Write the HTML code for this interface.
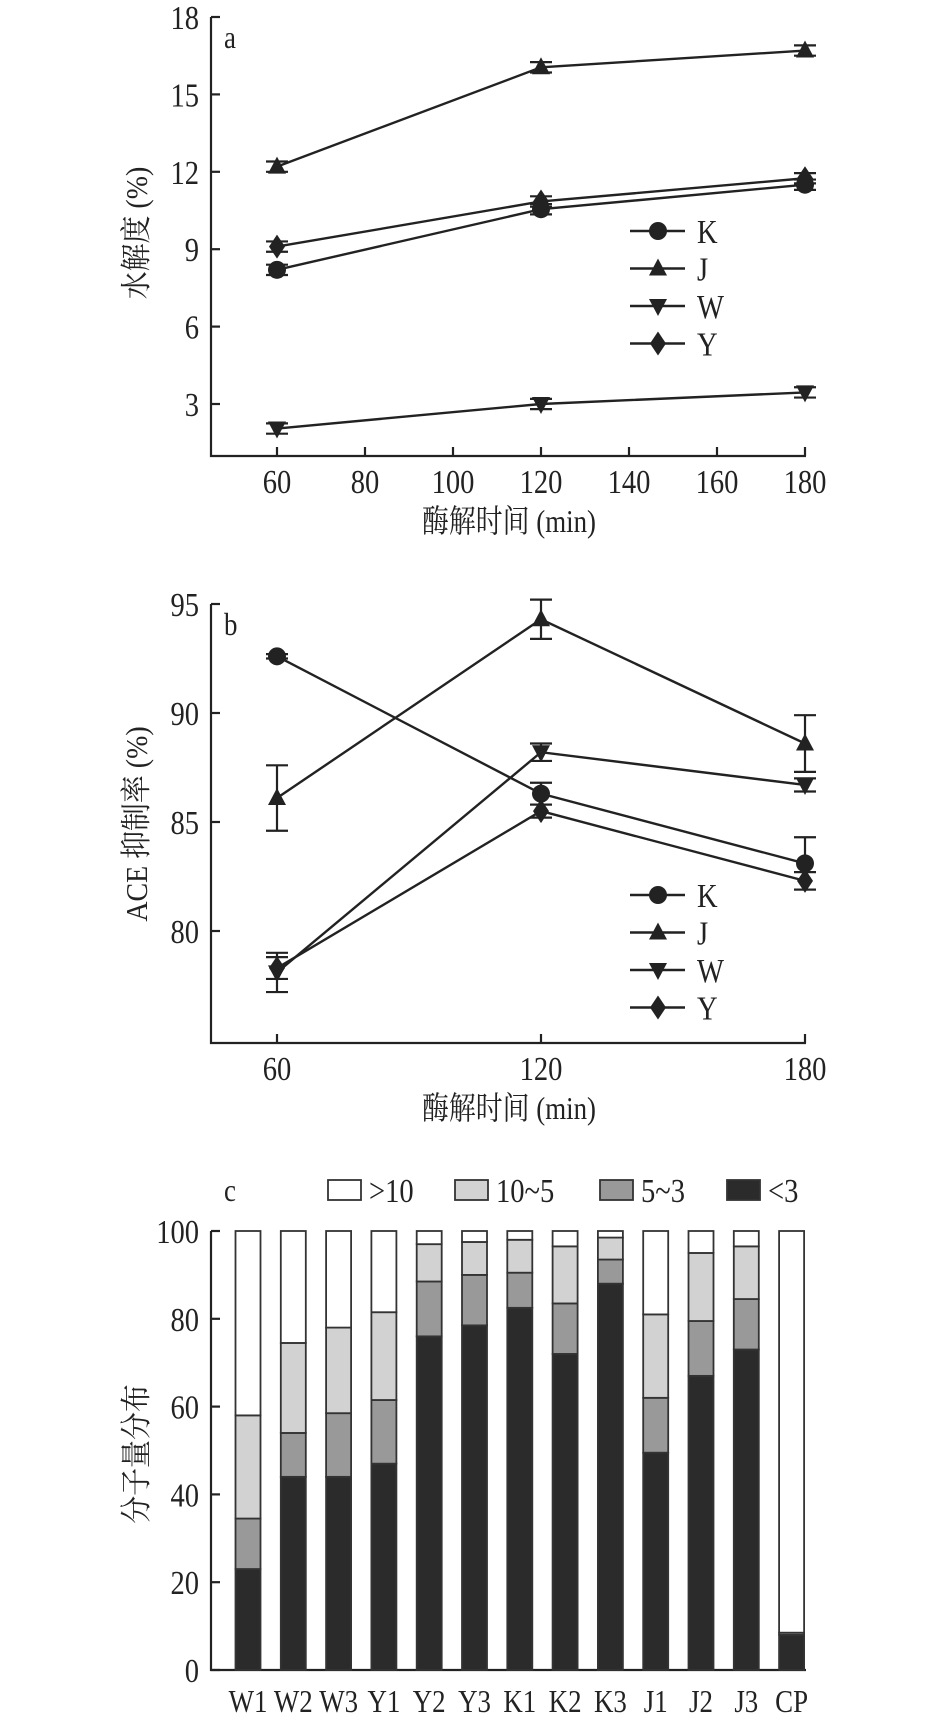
<!DOCTYPE html>
<html><head><meta charset="utf-8"><style>
html,body{margin:0;padding:0;background:#fff;}
svg{display:block;}
text{font-family:"Liberation Serif","Noto Serif CJK SC","Noto Sans CJK SC",serif;fill:#222;}
</style></head><body>
<svg id="fig" width="945" height="1721" viewBox="0 0 945 1721" xmlns="http://www.w3.org/2000/svg"></svg>
<script>
// ---- Chart a data ----
const aTimes = [60, 120, 180];
const aK = [8.2, 10.55, 11.5];
const aJ = [12.2, 16.05, 16.7];
const aW = [2.05, 3.0, 3.45];
const aY = [9.1, 10.85, 11.75];
const aErr = [0.2, 0.2, 0.2];
const aXTicks = [60, 80, 100, 120, 140, 160, 180];
const aYTicks = [3, 6, 9, 12, 15, 18];
// ---- Chart b data ----
const bTimes = [60, 120, 180];
const bK = [92.6, 86.3, 83.1];
const bKErr = [0.1, 0.5, 1.2];
const bJ = [86.1, 94.3, 88.6];
const bJErr = [1.5, 0.9, 1.3];
const bW = [78.1, 88.2, 86.7];
const bWErr = [0.9, 0.4, 0.3];
const bY = [78.3, 85.5, 82.3];
const bYErr = [0.5, 0.3, 0.4];
const bXTicks = [60, 120, 180];
const bYTicks = [80, 85, 90, 95];
// ---- Chart c data ----
const cCats = ["W1","W2","W3","Y1","Y2","Y3","K1","K2","K3","J1","J2","J3","CP"];
const cLt3 = [23, 44, 44, 47, 76, 78.5, 82.5, 72, 88, 49.5, 67, 73, 8];
const c5to3 = [11.5, 10, 14.5, 14.5, 12.5, 11.5, 8, 11.5, 5.5, 12.5, 12.5, 11.5, 0.5];
const c10to5 = [23.5, 20.5, 19.5, 20, 8.5, 7.5, 7.5, 13, 5, 19, 15.5, 12, 0];
const cYTicks = [0, 20, 40, 60, 80, 100];

const NS = "http://www.w3.org/2000/svg";
const svg = document.getElementById("fig");
function el(tag, attrs, parent, txt){
  const e = document.createElementNS(NS, tag);
  for (const k in attrs) e.setAttribute(k, attrs[k]);
  if (txt !== undefined) e.textContent = txt;
  (parent || svg).appendChild(e);
  return e;
}
// condensed text
function T(parent, x, y, anchor, size, str){
  return el("text", {x:0, y:0, "text-anchor":anchor, "font-size":size, transform:`translate(${x},${y}) scale(0.84,1)`}, parent, str);
}
function marker(g, type, x, y){
  const r = 9;
  if (type === "circle") return el("circle", {cx:x, cy:y, r:r, fill:"#222"}, g);
  if (type === "up") return el("polygon", {points:`${x},${y-r-1} ${x-r},${y+r-2} ${x+r},${y+r-2}`, fill:"#222"}, g);
  if (type === "down") return el("polygon", {points:`${x},${y+r+1} ${x-r},${y-r+2} ${x+r},${y-r+2}`, fill:"#222"}, g);
  return el("polygon", {points:`${x},${y-r-3} ${x+r-1},${y} ${x},${y+r+3} ${x-r+1},${y}`, fill:"#222"}, g);
}
const xA = v => 277 + (v - 60) * 4.4;

function lineChart(cfg){
  const g = el("g", {});
  
  
  const y = cfg.y;
  const ax = el("path", {d:`M211,${cfg.top} V${cfg.bottom} H806`, stroke:"#222", "stroke-width":2.2, fill:"none"}, g);
  
  
  cfg.yTicks.forEach(t => {
    el("line", {x1:211, x2:220, y1:y(t), y2:y(t), stroke:"#222", "stroke-width":2.2}, g);
    const tl = T(g, 199, y(t)+12, "end", 34, String(t));
    
    
  });
  cfg.xTicks.forEach(t => {
    el("line", {x1:xA(t), x2:xA(t), y1:cfg.bottom, y2:cfg.bottom-9, stroke:"#222", "stroke-width":2.2}, g);
    const tl = T(g, xA(t), cfg.bottom+37, "middle", 34, String(t));
    
    
  });
  const pl = T(g, 224, cfg.top+31, "start", 32, cfg.letter);
  
  
  const xt = T(g, 509, cfg.bottom+76, "middle", 32, "酶解时间 (min)");
  
  
  const yt = el("text", {x:0, y:0, "text-anchor":"middle", "font-size":31, transform:`translate(147,${cfg.ytitleY}) rotate(-90) scale(0.9,1)`}, g, cfg.ytitle);
  
  
  cfg.series.forEach(s => {
    const sg = el("g", {}, g);
    
    
    const pts = cfg.times.map((t,i) => xA(t) + "," + y(s.vals[i])).join(" ");
    el("polyline", {points:pts, fill:"none", stroke:"#222", "stroke-width":2.4}, sg);
    cfg.times.forEach((t,i) => {
      const cx = xA(t), e = s.err[i];
      const y1 = y(s.vals[i]+e), y2 = y(s.vals[i]-e);
      el("path", {d:`M${cx},${y1} V${y2} M${cx-11},${y1} H${cx+11} M${cx-11},${y2} H${cx+11}`, stroke:"#222", "stroke-width":2.2, fill:"none"}, sg);
      const m = marker(sg, s.type, cx, y(s.vals[i]));
      
      
    });
  });
  cfg.series.forEach((s, i) => {
    const ly = cfg.legendY + i * 37.5;
    const lg = el("g", {}, g);
    
    
    el("line", {x1:630, x2:685, y1:ly, y2:ly, stroke:"#222", "stroke-width":2.4}, lg);
    marker(lg, s.type, 658, ly);
    T(lg, 697, ly+12, "start", 34, s.label);
  });
}

const yAf = v => 404 - (v - 3) * 25.8;
lineChart({name:"chart-a", letter:"a", top:17, bottom:456, y:yAf, yTicks:aYTicks, xTicks:aXTicks,
  times:aTimes, ytitle:"水解度 (%)", ytitleY:233, legendY:231,
  series:[
    {label:"K", type:"circle", vals:aK, err:aErr},
    {label:"J", type:"up", vals:aJ, err:aErr},
    {label:"W", type:"down", vals:aW, err:aErr},
    {label:"Y", type:"diamond", vals:aY, err:aErr}
  ]});
const yBf = v => 931 - (v - 80) * 21.8;
lineChart({name:"chart-b", letter:"b", top:604, bottom:1043, y:yBf, yTicks:bYTicks, xTicks:bXTicks,
  times:bTimes, ytitle:"ACE 抑制率 (%)", ytitleY:824, legendY:895,
  series:[
    {label:"K", type:"circle", vals:bK, err:bKErr},
    {label:"J", type:"up", vals:bJ, err:bJErr},
    {label:"W", type:"down", vals:bW, err:bWErr},
    {label:"Y", type:"diamond", vals:bY, err:bYErr}
  ]});

// ---- Chart c ----
(function(){
  const g = el("g", {});
  
  
  const y = v => 1670 - v * 4.39;
  const xc = i => 248 + i * 45.3;
  const bw = 25;
  const ax = el("path", {d:`M211,1231 V1670 H806`, stroke:"#222", "stroke-width":2.2, fill:"none"}, g);
  
  
  cYTicks.forEach(t => {
    el("line", {x1:211, x2:220, y1:y(t), y2:y(t), stroke:"#222", "stroke-width":2.2}, g);
    const tl = T(g, 199, y(t)+12, "end", 34, String(t));
    
    
  });
  const cols = ["#2b2b2b", "#999999", "#d2d2d2", "#ffffff"];
  cCats.forEach((c, i) => {
    const bg = el("g", {}, g);
    
    
    const segs = [cLt3[i], c5to3[i], c10to5[i]];
    segs.push(100 - segs[0] - segs[1] - segs[2]);
    let acc = 0;
    const x0 = xc(i) - bw/2;
    segs.forEach((s, k) => {
      if (s > 0) el("rect", {x:x0, y:y(acc+s), width:bw, height:y(acc)-y(acc+s), fill:cols[k], stroke:"#333", "stroke-width":1.8}, bg);
      acc += s;
    });
    const tl = T(g, xc(i), 1712, "middle", 32, c);
    
    
  });
  const pl = T(g, 224, 1201, "start", 32, "c");
  
  
  const leg = [[">10", 328, cols[3]], ["10~5", 455, cols[2]], ["5~3", 600, cols[1]], ["<3", 727, cols[0]]];
  leg.forEach(l => {
    const lg = el("g", {}, g);
    
    
    el("rect", {x:l[1], y:1180, width:33, height:20, fill:l[2], stroke:"#333", "stroke-width":1.8}, lg);
    T(lg, l[1]+41, 1202, "start", 34, l[0]);
  });
  const yt = el("text", {x:0, y:0, "text-anchor":"middle", "font-size":31, transform:`translate(147,1454) rotate(-90) scale(0.9,1)`}, g, "分子量分布");
  
  
})();
</script>
</body></html>
